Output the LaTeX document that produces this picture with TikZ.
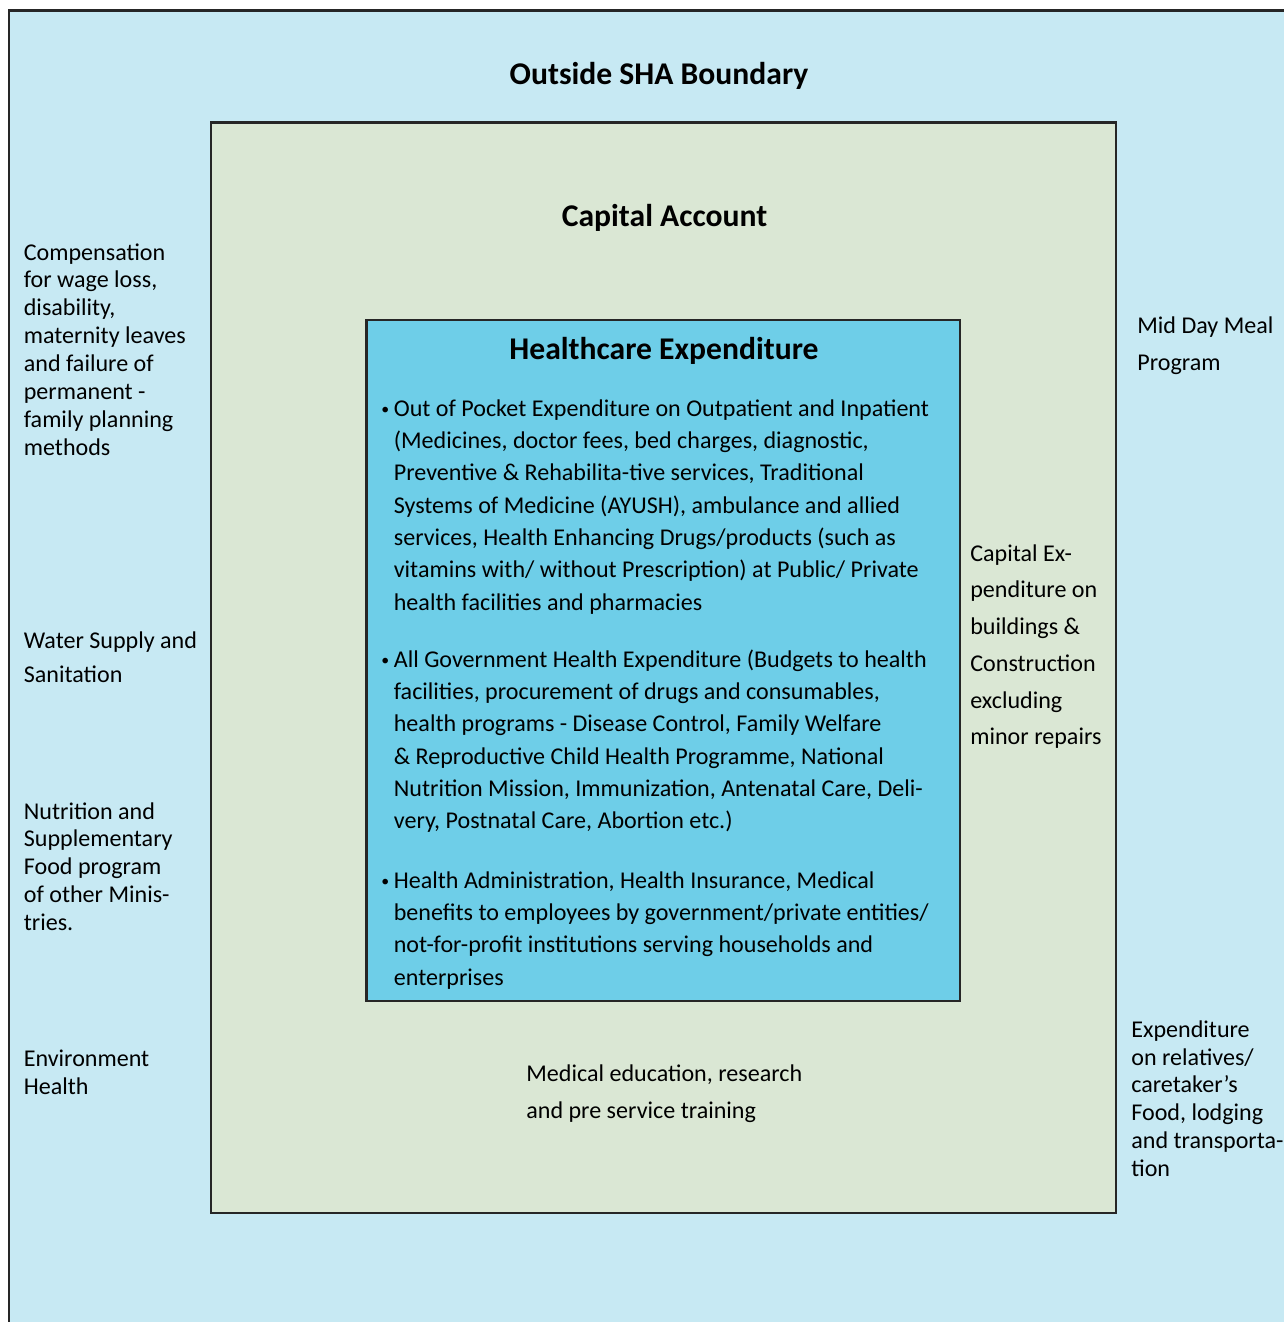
\documentclass[tikz,border=0pt]{standalone}
\usepackage{fontspec}
\setmainfont{Carlito}
\definecolor{outerblue}{RGB}{199,233,243}
\definecolor{capgreen}{RGB}{218,231,212}
\definecolor{hceblue}{RGB}{110,206,232}
\tikzset{box/.style = {draw = black!85, line width = 1.15pt}}
\tikzset{title/.style = {inner sep = 0, anchor = base, font = \fontsize{18}{22}\selectfont\bfseries}}
\tikzset{side/.style = {inner sep = 0, anchor = base west}}
% a block of lines at a given line spacing
\newcommand{\txtlines}[2]{\fontsize{13.7}{#1}\selectfont\begin{tabular}[t]{@{}l@{}}#2\end{tabular}}
\newcommand{\bulletlines}[1]{\fontsize{13.7}{18.44}\selectfont\begin{tabular}[t]{@{}l@{}l@{}}#1\end{tabular}}
\newcommand{\bul}{\makebox[0.25cm][l]{\raisebox{0.6pt}{\fontsize{9}{9}\selectfont\textbullet}}}

\begin{document}
\begin{tikzpicture}[x=0.02cm, y=-0.02cm]
          \clip (0, 0) rectangle (1284, 1322);
          \useasboundingbox (0, 0) rectangle (1284, 1322);
          \draw [box, fill = outerblue] (9, 10.5) rectangle (1300, 1340);
          \draw [box, fill = capgreen] (211, 122.5) rectangle (1115.5, 1213);
          \draw [box, fill = hceblue] (366.5, 320) rectangle (960, 1000.5);

          \node [title] (outside) at (659, 84) {Outside SHA Boundary};
          \node [title] (capital) at (664.5, 226) {Capital Account};
          \node [title] (hce) at (664, 359) {Healthcare Expenditure};

          % inside the healthcare box
          \node [side] (oop) at (381, 416) {\bulletlines{\bul & Out of Pocket Expenditure on Outpatient and Inpatient\\
            & (Medicines, doctor fees, bed charges, diagnostic,\\
            & Preventive \& Rehabilita-tive services, Traditional\\
            & Systems of Medicine (AYUSH), ambulance and allied\\
            & services, Health Enhancing Drugs/products (such as\\
            & vitamins with/ without Prescription) at Public/ Private\\
            & health facilities and pharmacies}};
          \node [side] (govt) at (381, 667) {\bulletlines{\bul & All Government Health Expenditure (Budgets to health\\
            & facilities, procurement of drugs and consumables,\\
            & health programs - Disease Control, Family Welfare\\
            & \& Reproductive Child Health Programme, National\\
            & Nutrition Mission, Immunization, Antenatal Care, Deli-\\
            & very, Postnatal Care, Abortion etc.)}};
          \node [side] (admin) at (381, 888) {\bulletlines{\bul & Health Administration, Health Insurance, Medical\\
            & benefits to employees by government/private entities/\\
            & not-for-profit institutions serving households and\\
            & enterprises}};

          % capital account
          \node [side] (capex) at (970, 561) {\txtlines{20.94}{Capital Ex-\\ penditure on\\ buildings \&\\ Construction\\ excluding\\ minor repairs}};
          \node [side] (meded) at (526, 1081.5) {\txtlines{21.06}{Medical education, research\\ and pre service training}};

          % outside the boundary
          \node [side] (comp) at (23.5, 260) {\txtlines{15.93}{Compensation\\ for wage loss,\\ disability,\\ maternity leaves\\ and failure of\\ permanent -\\ family planning\\ methods}};
          \node [side] (water) at (23.5, 648) {\txtlines{19.35}{Water Supply and\\ Sanitation}};
          \node [side] (nutri) at (23.5, 819) {\txtlines{15.93}{Nutrition and\\ Supplementary\\ Food program\\ of other Minis-\\ tries.}};
          \node [side] (env) at (23.5, 1066.5) {\txtlines{15.93}{Environment\\ Health}};
          \node [side] (meal) at (1137, 333) {\txtlines{21.06}{Mid Day Meal\\ Program}};
          \node [side] (relat) at (1131, 1037) {\txtlines{15.93}{Expenditure\\ on relatives/\\ caretaker's\\ Food, lodging\\ and transporta-\\ tion}};
        \end{tikzpicture}
\end{document}
